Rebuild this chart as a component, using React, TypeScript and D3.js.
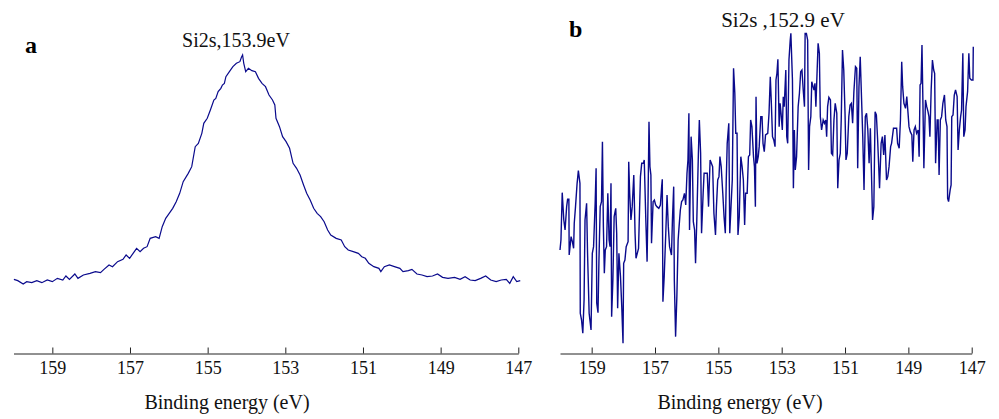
import React, { useEffect, useRef } from "react";
import * as d3 from "d3";

// ---------- data ----------
const energyDomain: [number, number] = [160, 147];
const energyTicks = [159, 157, 155, 153, 151, 149, 147];
const axisTitle = "Binding energy (eV)";

// panel a : Si2s spectrum, binding energy (eV) and intensity (a.u.)
const aEnergy = [
  159.99, 159.89, 159.75, 159.66, 159.53, 159.4, 159.27, 159.13, 159.0, 158.87,
  158.73, 158.65, 158.56, 158.42, 158.34, 158.2, 158.03, 157.89, 157.76, 157.67,
  157.54, 157.45, 157.32, 157.18, 157.1, 157.01, 156.92, 156.83, 156.74, 156.65,
  156.56, 156.48, 156.34, 156.25, 156.17, 156.08, 155.99, 155.9, 155.81, 155.72,
  155.63, 155.5, 155.41, 155.32, 155.24, 155.15, 155.1, 155.01, 154.93, 154.84,
  154.79, 154.73, 154.66, 154.62, 154.57, 154.53, 154.44, 154.35, 154.26, 154.17,
  154.13, 154.1, 154.07, 154.02, 153.95, 153.86, 153.77, 153.69, 153.6, 153.51,
  153.42, 153.33, 153.27, 153.24, 153.15, 153.07, 152.98, 152.89, 152.8, 152.71,
  152.62, 152.53, 152.45, 152.36, 152.27, 152.18, 152.09, 152.0, 151.91, 151.83,
  151.69, 151.56, 151.47, 151.38, 151.25, 151.12, 151.03, 150.94, 150.85, 150.72,
  150.59, 150.54, 150.45, 150.32, 150.19, 150.05, 149.97, 149.83, 149.74, 149.61,
  149.48, 149.35, 149.21, 149.08, 148.95, 148.81, 148.64, 148.5, 148.37, 148.24,
  148.11, 147.97, 147.84, 147.71, 147.57, 147.44, 147.31, 147.22, 147.13, 147.04,
  146.95,
];
const aIntensity = [
  62, 58, 48, 55, 52, 58, 52, 60, 55, 65,
  60, 72, 62, 78, 65, 75, 80, 85, 82, 92,
  105, 100, 115, 122, 135, 125, 140, 155, 145, 155,
  160, 185, 190, 185, 220, 245, 260, 275, 295, 320,
  355, 380, 400, 460, 470, 500, 530, 545, 570, 600,
  605, 625, 635, 645, 650, 670, 685, 700, 710, 715,
  728, 735, 710, 685, 695, 688, 685, 665, 650, 640,
  615, 600, 585, 545, 520, 490, 475, 455, 410, 395,
  375, 345, 320, 300, 275, 260, 250, 235, 210, 195,
  185, 180, 160, 150, 145, 140, 130, 125, 110, 100,
  95, 85, 100, 105, 100, 95, 85, 88, 92, 78,
  75, 70, 72, 78, 68, 65, 68, 62, 70, 60,
  58, 65, 72, 60, 55, 60, 62, 50, 70, 55,
  58,
];

// panel b : Si2s spectrum (noisy)
const bEnergy = [
  160.0, 159.97, 159.93, 159.88, 159.84, 159.79, 159.76, 159.72, 159.71, 159.65,
  159.61, 159.57, 159.55, 159.51, 159.46, 159.42, 159.37, 159.36, 159.32, 159.28,
  159.24, 159.21, 159.16, 159.13, 159.08, 159.02, 158.98, 158.94, 158.89, 158.86,
  158.84, 158.8, 158.77, 158.73, 158.69, 158.66, 158.63, 158.6, 158.57, 158.53,
  158.49, 158.45, 158.42, 158.39, 158.37, 158.33, 158.29, 158.24, 158.21, 158.18,
  158.14, 158.09, 158.05, 158.01, 157.99, 157.95, 157.91, 157.85, 157.83, 157.8,
  157.76, 157.72, 157.67, 157.63, 157.6, 157.56, 157.52, 157.46, 157.42, 157.37,
  157.34, 157.29, 157.25, 157.22, 157.19, 157.16, 157.13, 157.11, 157.06, 157.02,
  156.98, 156.94, 156.88, 156.83, 156.79, 156.77, 156.75, 156.71, 156.66, 156.62,
  156.58, 156.54, 156.48, 156.45, 156.41, 156.39, 156.35, 156.31, 156.27, 156.24,
  156.2, 156.16, 156.12, 156.07, 156.03, 155.99, 155.96, 155.93, 155.91, 155.86,
  155.82, 155.79, 155.75, 155.72, 155.68, 155.63, 155.6, 155.56, 155.53, 155.48,
  155.45, 155.4, 155.35, 155.31, 155.26, 155.22, 155.18, 155.14, 155.09, 155.06,
  155.02, 154.98, 154.95, 154.91, 154.86, 154.82, 154.78, 154.75, 154.72, 154.67,
  154.64, 154.6, 154.56, 154.52, 154.48, 154.45, 154.41, 154.38, 154.34, 154.29,
  154.25, 154.21, 154.17, 154.14, 154.09, 154.05, 154.01, 153.98, 153.94, 153.89,
  153.86, 153.83, 153.81, 153.78, 153.74, 153.71, 153.66, 153.62, 153.59, 153.55,
  153.51, 153.44, 153.4, 153.36, 153.33, 153.29, 153.25, 153.21, 153.18, 153.15,
  153.12, 153.08, 153.05, 153.02, 152.98, 152.95, 152.92, 152.87, 152.84, 152.81,
  152.77, 152.73, 152.71, 152.66, 152.63, 152.6, 152.57, 152.53, 152.48, 152.44,
  152.4, 152.36, 152.32, 152.28, 152.26, 152.22, 152.18, 152.15, 152.12, 152.08,
  152.05, 152.01, 151.98, 151.95, 151.92, 151.88, 151.85, 151.81, 151.78, 151.74,
  151.69, 151.65, 151.61, 151.58, 151.55, 151.51, 151.46, 151.43, 151.39, 151.35,
  151.31, 151.26, 151.23, 151.19, 151.15, 151.12, 151.08, 151.04, 151.0, 150.97,
  150.93, 150.88, 150.84, 150.8, 150.76, 150.72, 150.67, 150.63, 150.6, 150.56,
  150.52, 150.48, 150.44, 150.4, 150.36, 150.32, 150.28, 150.24, 150.2, 150.16,
  150.13, 150.09, 150.05, 150.01, 149.97, 149.94, 149.91, 149.86, 149.82, 149.78,
  149.74, 149.69, 149.65, 149.61, 149.56, 149.53, 149.47, 149.42, 149.37, 149.34,
  149.29, 149.25, 149.21, 149.18, 149.14, 149.09, 149.05, 149.01, 148.98, 148.94,
  148.89, 148.86, 148.82, 148.78, 148.74, 148.69, 148.66, 148.63, 148.6, 148.57,
  148.54, 148.51, 148.46, 148.42, 148.38, 148.35, 148.32, 148.28, 148.24, 148.2,
  148.17, 148.14, 148.09, 148.06, 148.03, 147.99, 147.95, 147.91, 147.86, 147.82,
  147.78, 147.76, 147.73, 147.68, 147.65, 147.63, 147.59, 147.55, 147.51, 147.46,
  147.43, 147.39, 147.35, 147.32, 147.28, 147.25, 147.21, 147.18, 147.13, 147.09,
  147.06, 147.01, 146.96, 146.95,
];
const bIntensity = [
  310, 340, 482, 400, 370, 440, 462, 462, 295, 350,
  335, 315, 390, 440, 510, 548, 510, 120, 100, 60,
  160, 400, 450, 300, 120, 70, 300, 320, 450, 555,
  150, 122, 280, 440, 455, 635, 380, 240, 310, 320,
  480, 340, 320, 510, 110, 220, 410, 435, 360, 135,
  300, 230, 140, 30, 270, 280, 320, 335, 575, 480,
  400, 440, 535, 360, 285, 300, 315, 530, 570, 570,
  580, 400, 275, 460, 695, 560, 535, 330, 455, 460,
  445, 440, 435, 445, 500, 522, 155, 230, 360, 475,
  380, 320, 295, 400, 500, 220, 50, 170, 340, 380,
  430, 455, 460, 480, 445, 540, 580, 720, 370, 650,
  580, 395, 370, 270, 400, 600, 700, 600, 360, 480,
  540, 540, 540, 440, 580, 570, 560, 420, 355, 440,
  520, 530, 590, 560, 480, 410, 360, 520, 630, 690,
  360, 440, 520, 855, 780, 660, 660, 355, 410, 590,
  560, 520, 385, 480, 480, 590, 595, 700, 680, 590,
  560, 440, 770, 570, 590, 620, 710, 710, 630, 605,
  655, 660, 720, 830, 760, 650, 640, 620, 820, 840,
  882, 680, 750, 720, 670, 770, 740, 850, 650, 630,
  880, 940, 960, 820, 495, 670, 550, 590, 740, 780,
  845, 850, 790, 740, 960, 960, 940, 550, 680, 710,
  815, 800, 790, 810, 740, 850, 930, 900, 710, 670,
  700, 690, 700, 650, 740, 768, 760, 600, 595, 700,
  750, 720, 495, 580, 600, 700, 910, 850, 720, 580,
  600, 710, 745, 750, 690, 785, 860, 855, 555, 800,
  890, 770, 650, 490, 710, 720, 670, 570, 675, 520,
  400, 440, 725, 715, 640, 570, 495, 630, 650, 595,
  655, 520, 530, 560, 620, 630, 675, 675, 675, 630,
  615, 700, 875, 800, 750, 735, 770, 720, 680, 665,
  655, 575, 670, 680, 660, 670, 590, 805, 810, 925,
  750, 555, 760, 740, 725, 710, 650, 790, 880, 850,
  840, 570, 700, 700, 535, 700, 710, 750, 775, 700,
  680, 465, 455, 490, 505, 710, 715, 775, 790, 770,
  610, 670, 710, 730, 900, 650, 670, 740, 785, 900,
  825, 820, 820, 920,
];

const panelLetters = ["a", "b"];
const peakLabels = ["Si2s,153.9eV", "Si2s ,152.9 eV"];
const intensityDomainA: [number, number] = [0, 900];
const intensityDomainB: [number, number] = [0, 1000];

// ---------- layout ----------
const W = 999;
const H = 419;
const LINE_COLOR = "#0a0a8c";
const SERIF = "'Liberation Serif', 'Times New Roman', Times, serif";

type Panel = {
  energy: number[];
  intensity: number[];
  yDomain: [number, number];
  xRange: [number, number];
  yRange: [number, number];
  axisY: number;
  letter: string;
  letterPos: [number, number];
  label: string;
  labelPos: [number, number];
  labelSize: number;
  titleX: number;
  strokeWidth: number;
};

const panels: Panel[] = [
  {
    energy: aEnergy,
    intensity: aIntensity,
    yDomain: intensityDomainA,
    xRange: [13.5, 518.3],
    yRange: [300, 0],
    axisY: 353.5,
    letter: panelLetters[0],
    letterPos: [25, 53],
    label: peakLabels[0],
    labelPos: [236, 47],
    labelSize: 20,
    titleX: 227,
    strokeWidth: 1.2,
  },
  {
    energy: bEnergy,
    intensity: bIntensity,
    yDomain: intensityDomainB,
    xRange: [560, 971.7],
    yRange: [353.3, 20],
    axisY: 353.5,
    letter: panelLetters[1],
    letterPos: [569, 37],
    label: peakLabels[1],
    labelPos: [783, 27],
    labelSize: 21,
    titleX: 740,
    strokeWidth: 1.4,
  },
];

function PanelView({ p }: { p: Panel }) {
  const axisRef = useRef<SVGGElement>(null);
  const x = d3.scaleLinear().domain(energyDomain).range(p.xRange);
  const y = d3.scaleLinear().domain(p.yDomain).range(p.yRange);
  const pts = p.energy.map((e, i) => [e, p.intensity[i]] as [number, number]);
  const line = d3
    .line<[number, number]>()
    .x((d) => x(d[0]))
    .y((d) => y(d[1]));

  useEffect(() => {
    if (!axisRef.current) return;
    const g = d3.select(axisRef.current);
    g.selectAll("*").remove();
    g.call(
      d3
        .axisBottom(x)
        .tickValues(energyTicks)
        .tickFormat(d3.format("d"))
        .tickSizeInner(-6)
        .tickSizeOuter(0)
        .tickPadding(8)
    );
    g.attr("font-family", SERIF).attr("font-size", 18);
    g.select(".domain").attr("stroke", "#222").attr("stroke-width", 1);
    g.selectAll(".tick line").attr("stroke", "#222").attr("stroke-width", 1);
    g.selectAll(".tick text").attr("fill", "#111");
  });

  return (
    <g>
      <path
        d={line(pts) || ""}
        fill="none"
        stroke={LINE_COLOR}
        strokeWidth={p.strokeWidth}
        strokeLinejoin="miter"
      />
      <g ref={axisRef} transform={`translate(0,${p.axisY})`} />
      <text
        x={p.titleX}
        y={409}
        textAnchor="middle"
        fontFamily={SERIF}
        fontSize={20}
        fill="#111"
      >
        {axisTitle}
      </text>
      <text
        x={p.labelPos[0]}
        y={p.labelPos[1]}
        textAnchor="middle"
        fontFamily={SERIF}
        fontSize={p.labelSize}
        fill="#111"
      >
        {p.label}
      </text>
      <text
        x={p.letterPos[0]}
        y={p.letterPos[1]}
        fontFamily={SERIF}
        fontSize={24}
        fontWeight="bold"
        fill="#000"
      >
        {p.letter}
      </text>
    </g>
  );
}

export default function App() {
  return (
    <svg
      width={W}
      height={H}
      viewBox={`0 0 ${W} ${H}`}
      style={{ position: "absolute", left: 0, top: 0, background: "#fff" }}
    >
      <rect x={0} y={0} width={W} height={H} fill="#fff" />
      {panels.map((p, i) => (
        <PanelView key={i} p={p} />
      ))}
    </svg>
  );
}
